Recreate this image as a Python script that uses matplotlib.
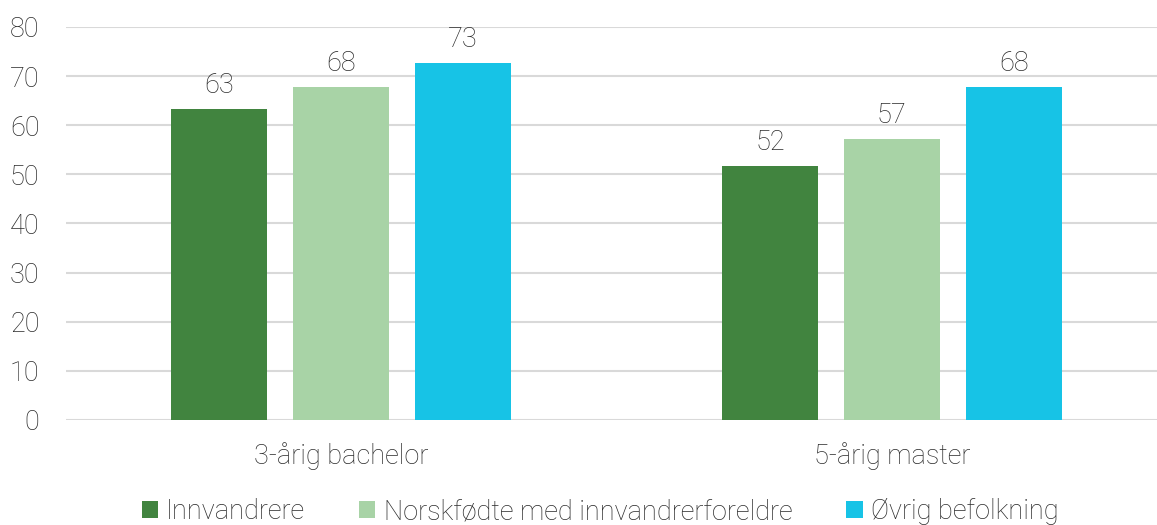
import numpy as np
import matplotlib.pyplot as plt

# Data
kategorier = ['3-årig bachelor', '5-årig master']
serier = ['Innvandrere', 'Norskfødte med innvandrerforeldre', 'Øvrig befolkning']
innvandrere = [63.4, 51.8]
norskfodte = [67.8, 57.3]
ovrig = [72.7, 67.8]
etiketter = [['63', '52'], ['68', '57'], ['73', '68']]

farger = ['#41843F', '#A8D3A6', '#17C3E6']
tekstfarge = '#2b2b2b'

plt.rcParams['font.family'] = ['Roboto', 'DejaVu Sans']
plt.rcParams['font.weight'] = 'light'

fig = plt.figure(figsize=(11.57, 5.25), dpi=100)
ax = fig.add_axes([66 / 1157, 0.2, (1167 - 66) / 1157, 0.9486 - 0.2])

x = np.arange(len(kategorier))
bredde = 0.174
steg = 0.2214
verdier = [innvandrere, norskfodte, ovrig]

for i, (navn, v) in enumerate(zip(serier, verdier)):
    pos = x + (i - 1) * steg
    ax.bar(pos, v, width=bredde, color=farger[i], label=navn, zorder=3)
    for xp, yv, lab in zip(pos, v, etiketter[i]):
        ax.text(xp, yv + 2.0, lab, ha='center', va='bottom',
                fontsize=19.5, color=tekstfarge, fontweight='light')

ax.set_xlim(-0.5, 1.5)
ax.set_ylim(0, 80)
ax.set_yticks(range(0, 81, 10))
ax.yaxis.grid(True, color='#D9D9D9', linewidth=1.5, zorder=0)
ax.set_xticks(x)
ax.set_xticklabels(kategorier)
for s in ax.spines.values():
    s.set_visible(False)
ax.tick_params(axis='both', length=0, labelsize=19.5, colors=tekstfarge)
ax.tick_params(axis='x', pad=16)
ax.tick_params(axis='y', pad=19)
for lab in ax.get_yticklabels():
    lab.set_horizontalalignment('right')

leg = fig.legend(loc='center', bbox_to_anchor=(600 / 1157, 0.025), ncol=3,
                 frameon=False, fontsize=19.5, handlelength=0.6, handleheight=0.6,
                 handletextpad=0.3, columnspacing=2.0, labelcolor=tekstfarge)

fig.savefig('out.png', dpi=100)
